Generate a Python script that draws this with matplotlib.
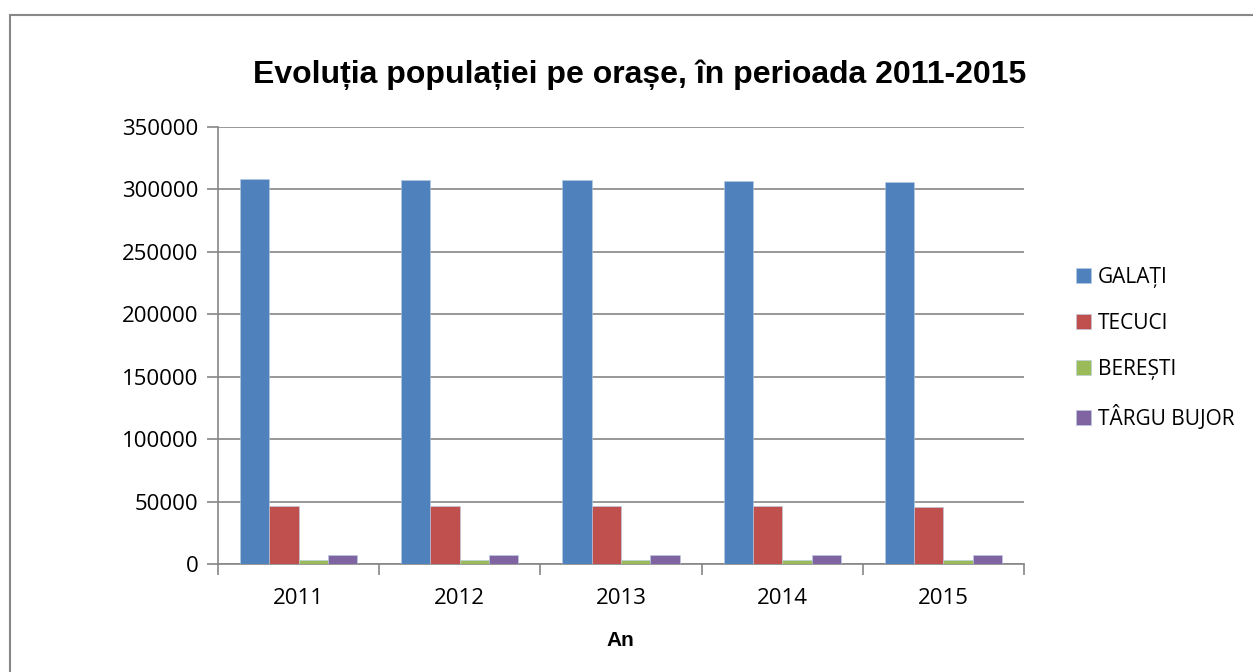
import matplotlib.pyplot as plt
import numpy as np
from matplotlib.patches import Rectangle

years = ['2011', '2012', '2013', '2014', '2015']
galati = [308000, 307700, 307900, 306800, 305900]
tecuci = [46800, 46600, 46800, 46400, 46000]
beresti = [3400, 3400, 3300, 3300, 3300]
targu_bujor = [7300, 7300, 7300, 7200, 7200]

series = [('GALAȚI', galati, '#4F81BD'),
          ('TECUCI', tecuci, '#C0504D'),
          ('BEREȘTI', beresti, '#9BBB59'),
          ('TÂRGU BUJOR', targu_bujor, '#8064A2')]

tick_font = 'Open Sans'
fig = plt.figure(figsize=(12.53, 6.72), dpi=100)
ax = fig.add_axes([218/1253, 1 - 564/672, 806/1253, (564-127)/672])

# chart border
fig.patches.append(Rectangle((10/1253, -0.1), 1.2, 1 - 15/672 + 0.1, transform=fig.transFigure,
                             fill=False, edgecolor='#888888', linewidth=1.5))

x = np.arange(len(years))
w = 1 / 5.5
for i, (name, vals, col) in enumerate(series):
    ax.bar(x + (i - 1.5) * w, vals, width=w, color=col, edgecolor='#b8cce4', linewidth=0.4,
           label=name, zorder=3)

ax.set_xlim(-0.5, 4.5)
ax.set_ylim(0, 350000)
ax.set_yticks(range(0, 350001, 50000))
ax.yaxis.grid(True, color='#868686', linewidth=1.2, zorder=0)
for s in ['top', 'right']:
    ax.spines[s].set_visible(False)
for s in ['left', 'bottom']:
    ax.spines[s].set_color('#868686')
    ax.spines[s].set_linewidth(1.2)

ax.set_xticks(x)
ax.set_xticklabels(years)
ax.set_xticks(np.arange(-0.5, 5, 1), minor=True)
ax.tick_params(axis='x', which='major', length=0, pad=17)
ax.tick_params(axis='x', which='minor', length=8, width=1.2, color='#868686')
ax.tick_params(axis='y', length=8, width=1.2, color='#868686', pad=6)
for lab in ax.get_xticklabels() + ax.get_yticklabels():
    lab.set_fontfamily(tick_font)
    lab.set_fontsize(16)

fig.text(640/1253, 1 - 75/672, 'Evoluția populației pe orașe, în perioada 2011-2015',
         ha='center', va='center', fontsize=23, fontweight='bold', family='Liberation Sans')
fig.text(620/1253, 1 - 640/672, 'An', ha='center', va='center', fontsize=15,
         fontweight='bold', family='Liberation Sans')

fig.legend(loc='center left', bbox_to_anchor=(1057/1253, 1 - 348/672), frameon=False,
           handlelength=0.75, handleheight=0.75, handletextpad=0.3, labelspacing=1.2,
           prop={'family': tick_font, 'size': 15})

fig.savefig('out.png', dpi=100)
